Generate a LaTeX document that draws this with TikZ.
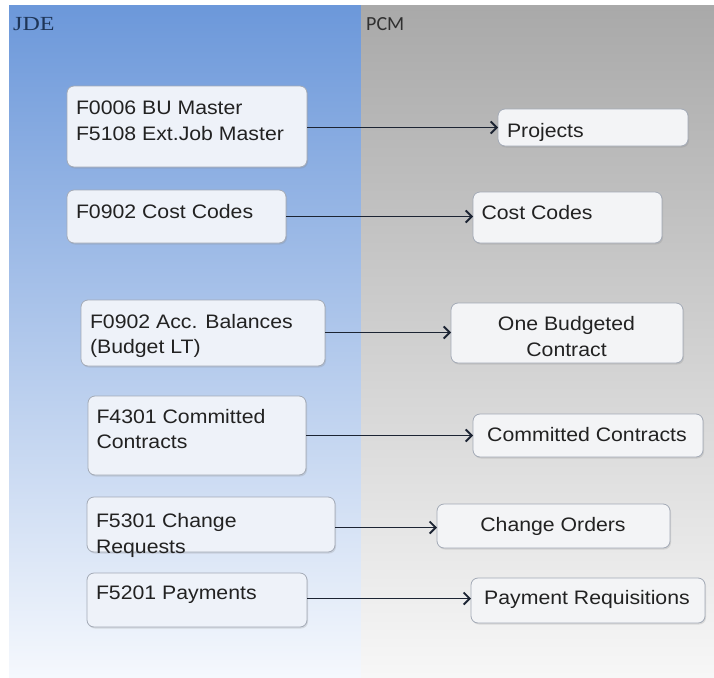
\documentclass[tikz,border=0pt]{standalone}
\usepackage{fontspec}
\setmainfont{Liberation Sans}[FakeStretch=1.09]
\newfontfamily\jdefont{Liberation Serif}[FakeStretch=1.2]
\newfontfamily\pcmfont{Carlito}
\usetikzlibrary{arrows.meta,shadows}
\definecolor{blueTop}{HTML}{6C98DA}
\definecolor{blueMid}{HTML}{A6C3EB}
\definecolor{blueBot}{HTML}{F5F8FD}
\definecolor{grayTop}{HTML}{A9A9A9}
\definecolor{grayMid}{HTML}{D2D2D2}
\definecolor{grayBot}{HTML}{F7F7F7}
\definecolor{lfill}{HTML}{EEF2F9}
\definecolor{rfill}{HTML}{F3F4F6}
\definecolor{boxborder}{HTML}{A3AAB6}
\definecolor{txtcol}{HTML}{222222}
\definecolor{arrcol}{HTML}{1C2433}
\definecolor{jdecol}{HTML}{1E3557}
\definecolor{pcmcol}{HTML}{303030}
\begin{document}
\begin{tikzpicture}[x=1pt,y=-1pt,
  box/.style={draw=boxborder, line width=0.8pt, rounded corners=7pt, inner sep=0pt, outer sep=0pt,
    anchor=north west, drop shadow={opacity=0.22, shadow xshift=1pt, shadow yshift=-1.5pt}},
  lbox/.style={box, fill=lfill},
  rbox/.style={box, fill=rfill},
  txt/.style={inner sep=0pt, outer sep=0pt, text=txtcol, font=\fontsize{19.5}{25.5}\selectfont},
  ltxt/.style={txt, anchor=north west, align=left},
  ctxt/.style={txt, anchor=north, align=center},
  arr/.style={draw=arrcol, line width=1.9pt, -{Straight Barb[length=6pt,width=12pt]}}]
\useasboundingbox (0,0) rectangle (714,677);
\fill[white] (0,0) rectangle (714,677);
\shade[top color=blueTop, middle color=blueMid, bottom color=blueBot] (9,6) rectangle (361,677);
\shade[top color=grayTop, middle color=grayMid, bottom color=grayBot] (361,6) rectangle (714,677);

\node[inner sep=0pt, anchor=north west, text=jdecol, font=\jdefont\fontsize{20}{22}\selectfont] (jde) at (13,17) {JDE};
\node[inner sep=0pt, anchor=north west, text=pcmcol, font=\pcmfont\fontsize{20}{22}\selectfont] (pcm) at (366,17.5) {PCM};

% left boxes
\node[lbox, minimum width=240pt, minimum height=81pt] (b1) at (67,86) {};
\node[lbox, minimum width=219pt, minimum height=53pt] (b2) at (67,190) {};
\node[lbox, minimum width=244pt, minimum height=66pt] (b3) at (81,300) {};
\node[lbox, minimum width=218pt, minimum height=79pt] (b4) at (88,396) {};
\node[lbox, minimum width=248pt, minimum height=55pt] (b5) at (87,497) {};
\node[lbox, minimum width=220pt, minimum height=54pt] (b6) at (87,573) {};
% right boxes
\node[rbox, minimum width=190pt, minimum height=37pt] (r1) at (498,109) {};
\node[rbox, minimum width=189pt, minimum height=51pt] (r2) at (473,192) {};
\node[rbox, minimum width=232pt, minimum height=60pt] (r3) at (451,303) {};
\node[rbox, minimum width=230pt, minimum height=43pt] (r4) at (473,414) {};
\node[rbox, minimum width=233pt, minimum height=44pt] (r5) at (437,504) {};
\node[rbox, minimum width=234pt, minimum height=45pt] (r6) at (471,578) {};

% texts
\node[ltxt] (t1) at (76,101) {F0006 BU Master\\F5108 Ext.Job Master};
\node[ltxt] (t2) at (76,204) {F0902 Cost Codes};
\node[ltxt] (t3) at (90,314) {F0902 Acc. Balances\\(Budget LT)};
\node[ltxt] (t4) at (96.5,409) {F4301 Committed\\Contracts};
\node[ltxt] (t5) at (96,513.5) {F5301 Change\\Requests};
\node[ltxt] (t6) at (96,586) {F5201 Payments};
\node[ltxt] (u1) at (507,123) {Projects};
\node[ltxt] (u2) at (481.5,205) {Cost Codes};
\node[ctxt] (u3) at (566.5,316.5) {One Budgeted\\Contract};
\node[ctxt] (u4) at (587,427.5) {Committed Contracts};
\node[ctxt] (u5) at (553,517.5) {Change Orders};
\node[ctxt] (u6) at (587,590.5) {Payment Requisitions};

% arrows
\draw[arr] (b1.east |- 0,127.5) -- (r1.west |- 0,127.5);
\draw[arr] (b2.east |- 0,216.5) -- (r2.west |- 0,216.5);
\draw[arr] (b3.east |- 0,332.5) -- (r3.west |- 0,332.5);
\draw[arr] (b4.east |- 0,435.5) -- (r4.west |- 0,435.5);
\draw[arr] (b5.east |- 0,527.5) -- (r5.west |- 0,527.5);
\draw[arr] (b6.east |- 0,598.5) -- (r6.west |- 0,598.5);
\end{tikzpicture}
\end{document}
